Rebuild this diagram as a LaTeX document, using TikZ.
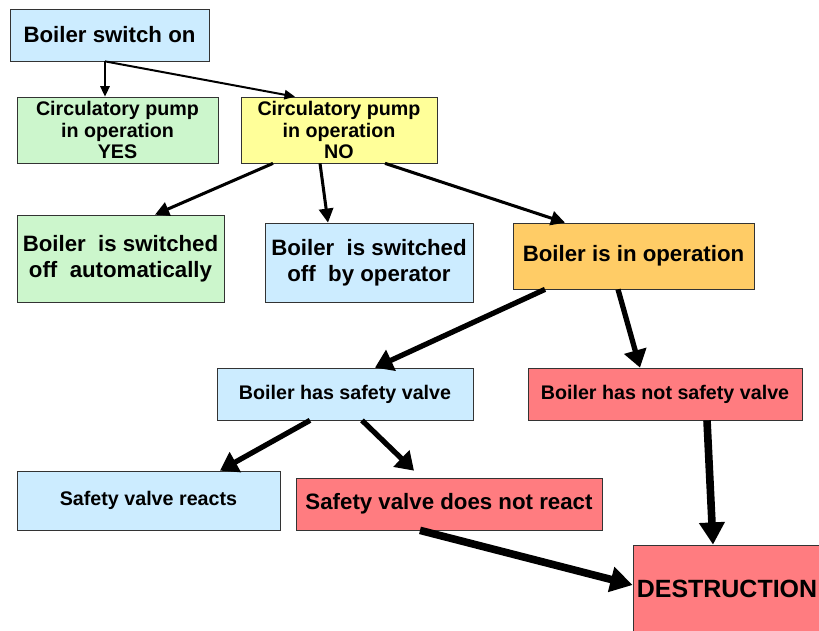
\documentclass[tikz,border=0pt]{standalone}
\usepackage{fontspec}
\setmainfont{Liberation Sans}
\usepackage{tikz}
\usetikzlibrary{arrows.meta,positioning,calc}

\definecolor{boxblue}{RGB}{204,236,255}
\definecolor{boxgreen}{RGB}{204,246,204}
\definecolor{boxyellow}{RGB}{255,255,153}
\definecolor{boxorange}{RGB}{255,204,102}
\definecolor{boxred}{RGB}{255,124,128}

\begin{document}
\begin{tikzpicture}[
    x=0.03cm, y=-0.03cm,
    box/.style={
        draw=black!80,
        line width=0.6pt,
        inner sep=0pt,
        align=center,
        font=\bfseries\fontsize{19}{22.2}\selectfont
    },
    small/.style={font=\bfseries\fontsize{16.8}{18.4}\selectfont},
    thinarrow/.style={-{Triangle[length=9pt, width=8pt]}, line width=1.7pt},
    arrow/.style={-{Triangle[length=12pt, width=12pt]}, line width=2.6pt},
    thickarrow/.style={-{Triangle[length=15pt, width=19pt]}, line width=4.5pt},
    heavyarrow/.style={-{Triangle[length=19pt, width=21pt]}, line width=6.5pt}
]
\useasboundingbox (0,0) rectangle (819,630);
\fill[white] (0,0) rectangle (819,630);

\node[box, fill=boxblue, minimum width=5.97cm, minimum height=1.56cm] (switch) at (109.5,35) {Boiler switch on};
\node[box, small, fill=boxgreen, minimum width=6.03cm, minimum height=1.98cm] (yes) at (117.5,130) {Circulatory pump\\in operation\\YES};
\node[box, small, fill=boxyellow, minimum width=5.88cm, minimum height=1.98cm] (no) at (339,130) {Circulatory pump\\in operation\\NO};
\node[box, fill=boxgreen, minimum width=6.21cm, minimum height=2.61cm] (auto) at (120.5,258.5) {Boiler\ \ is switched\\off\ \ automatically};
\node[box, fill=boxblue, minimum width=6.24cm, minimum height=2.37cm] (operator) at (369,262.5) {Boiler\ \ is switched\\off\ \ by operator};
\node[box, fill=boxorange, minimum width=7.23cm, minimum height=1.98cm] (operation) at (633.5,256) {Boiler is in operation};
\node[box, small, fill=boxblue, minimum width=7.68cm, minimum height=1.56cm] (valve) at (345,394) {Boiler has safety valve};
\node[box, small, fill=boxred, minimum width=8.22cm, minimum height=1.56cm] (novalve) at (665,394) {Boiler has not safety valve};
\node[box, small, fill=boxblue, minimum width=7.89cm, minimum height=1.77cm] (reacts) at (148.5,500.5) {Safety valve reacts};
\node[box, fill=boxred, minimum width=9.18cm, minimum height=1.56cm] (noreact) at (449,504) {Safety valve does not react};
\node[box, fill=boxred, minimum width=5.64cm, minimum height=2.64cm,
      font=\bfseries\fontsize{21.3}{24}\selectfont] (destruction) at (727,589) {DESTRUCTION};

% switch on
\draw[thinarrow] ($(switch.south)+(-4.5,0)$) -- ($(yes.north)+(-12.5,0)$);
\draw[thinarrow] ($(switch.south)+(-4.5,0)$) -- ($(no.north)+(-44,0)$);

% pump not running
\draw[arrow] ($(no.south)+(-66,0)$) -- ($(auto.north)+(34.5,0)$);
\draw[arrow] ($(no.south)+(-19,0)$) -- ($(operator.north)+(-41,0)$);
\draw[arrow] ($(no.south)+(46,0)$) -- ($(operation.north)+(-68.5,0)$);

\draw[thickarrow] ($(operation.south)+(-88.5,0)$) -- ($(valve.north)+(30,0)$);
\draw[thickarrow] ($(operation.south)+(-15.5,0)$) -- ($(novalve.north)+(-25,0)$);
\draw[thickarrow] ($(valve.south)+(-35,0)$) -- ($(reacts.north)+(71.5,0)$);
\draw[thickarrow] ($(valve.south)+(17,0)$) -- ($(noreact.north)+(-35,-7)$);

% destruction
\draw[heavyarrow] ($(novalve.south)+(42,0)$) -- ($(destruction.north)+(-14,0)$);
\draw[heavyarrow] ($(noreact.south)+(-29,0)$) -- ($(destruction.west)+(0,-4)$);
\end{tikzpicture}
\end{document}
